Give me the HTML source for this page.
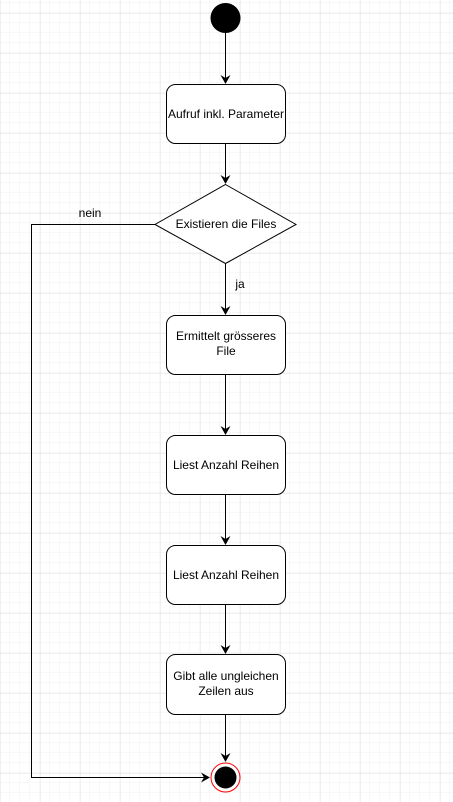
<!DOCTYPE html>
<html><head><meta charset="utf-8"><style>
html,body{margin:0;padding:0;background:#fff}
svg{display:block}
text{font-family:"Liberation Sans",Arial,sans-serif;font-size:12px;fill:#000}
</style></head><body>
<svg width="453" height="802" xmlns="http://www.w3.org/2000/svg">
<defs>
<pattern id="minor" width="10" height="10" patternUnits="userSpaceOnUse" x="0" y="3">
<path d="M10 0V10M0 10H10" fill="none" stroke="#f0f0f0" stroke-width="1"/>
</pattern>
<pattern id="major" width="40" height="40" patternUnits="userSpaceOnUse" x="0.5" y="13.5">
<path d="M0 0V40M0 0H40" fill="none" stroke="#e2e2e2" stroke-width="1"/>
</pattern>
<marker id="ar" markerWidth="10" markerHeight="10" refX="8" refY="5" orient="auto" markerUnits="userSpaceOnUse">
<path d="M0,0 L9,5 L0,10 L3,5 Z" fill="#000"/>
</marker>
</defs>
<rect width="453" height="802" fill="url(#minor)"/>
<rect width="453" height="802" fill="url(#major)"/>
<g stroke="#000" stroke-width="1" fill="none">
<line x1="225.5" y1="33" x2="225.5" y2="83" marker-end="url(#ar)"/>
<line x1="225.5" y1="144" x2="225.5" y2="183" marker-end="url(#ar)"/>
<line x1="225.5" y1="264" x2="225.5" y2="314" marker-end="url(#ar)"/>
<line x1="225.5" y1="375" x2="225.5" y2="434" marker-end="url(#ar)"/>
<line x1="225.5" y1="495" x2="225.5" y2="544" marker-end="url(#ar)"/>
<line x1="225.5" y1="605" x2="225.5" y2="653" marker-end="url(#ar)"/>
<line x1="225.5" y1="715" x2="225.5" y2="761" marker-end="url(#ar)"/>
<polyline points="155,224.5 31.5,224.5 31.5,777.5 209,777.5" marker-end="url(#ar)"/>
</g>
<circle cx="225.5" cy="18" r="15" fill="#000"/>
<g fill="#fff" stroke="#000" stroke-width="1">
<rect x="166.5" y="84.5" width="119" height="59" rx="9"/>
<polygon points="225.5,184.5 296,224.5 225.5,263.5 155,224.5"/>
<rect x="166.5" y="315.5" width="119" height="59" rx="9"/>
<rect x="166.5" y="435.5" width="119" height="59" rx="9"/>
<rect x="166.5" y="545.5" width="119" height="59" rx="9"/>
<rect x="166.5" y="654.5" width="119" height="60" rx="9"/>
</g>
<circle cx="225.5" cy="777.5" r="14.5" fill="#fff" stroke="#f00" stroke-width="1"/>
<circle cx="225.5" cy="777.5" r="11" fill="#000"/>
<g text-anchor="middle">
<text x="226" y="118">Aufruf inkl. Parameter</text>
<text x="226" y="228">Existieren die Files</text>
<text x="226" y="340">Ermittelt grösseres</text>
<text x="226" y="355">File</text>
<text x="226" y="469">Liest Anzahl Reihen</text>
<text x="226" y="579">Liest Anzahl Reihen</text>
<text x="226" y="680">Gibt alle ungleichen</text>
<text x="226" y="695">Zeilen aus</text>
<text x="90" y="217">nein</text>
<text x="240" y="288">ja</text>
</g>
</svg>
</body></html>
